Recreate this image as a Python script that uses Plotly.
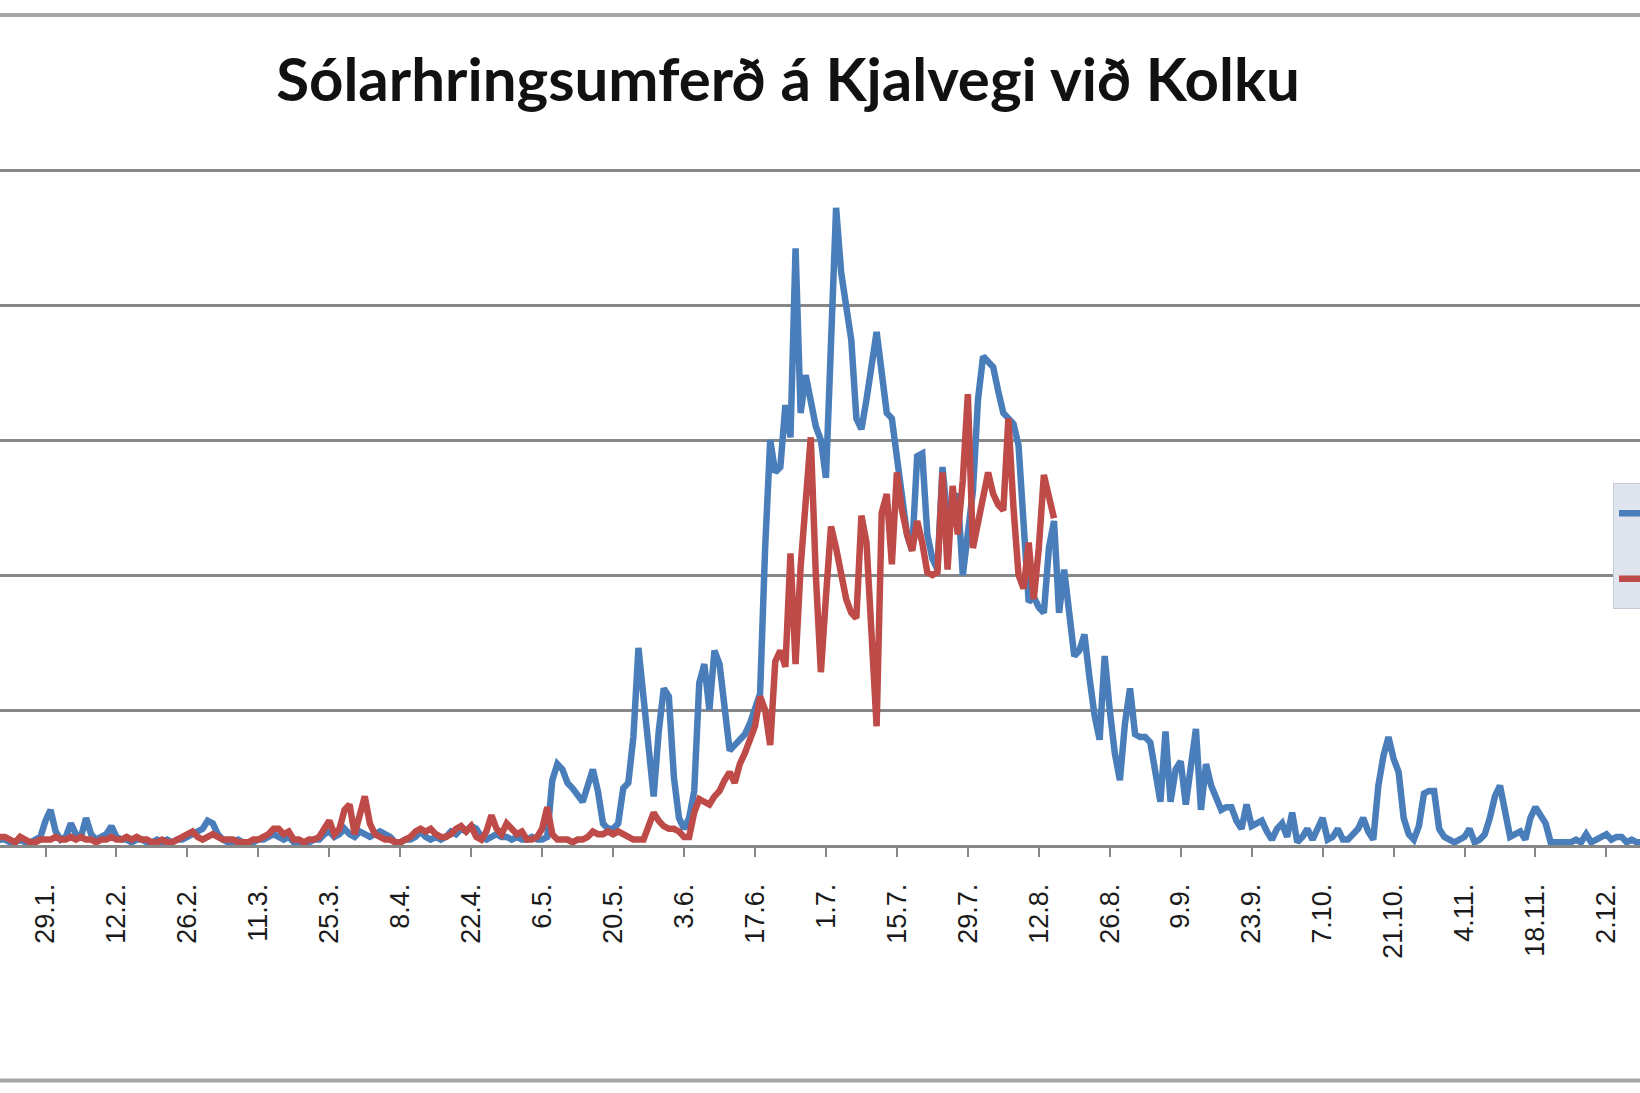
import pandas as pd
import plotly.graph_objects as go

# ---------------- data ----------------
title_text = "Sólarhringsumferð á Kjalvegi við Kolku"
series_names = ["", ""]   # legend text is cut off in the reference

# daily traffic, first value = 19 January
blue_start = "2012-01-19"
blue_values = [
    1, 2, 2, 1, 1, 2, 1, 1, 2, 3, 9,            # 19-29 Jan
    13, 5, 2, 3, 8, 4, 3, 10, 4, 2,
    3, 4, 7, 3, 2, 2, 1, 2, 2, 1,
    1, 2, 1, 2, 1, 2, 2, 3, 4, 5,
    6, 9, 8, 4, 2, 1, 1, 2, 1, 1,
    1, 2, 2, 3, 4, 3, 2, 3, 1, 1,
    1, 1, 2, 2, 4, 5, 3, 4, 6, 4,
    3, 5, 4, 3, 4, 5, 4, 3, 1, 1,
    2, 2, 3, 5, 3, 2, 3, 2, 3, 5,
    4, 6, 5, 7, 6, 3, 2, 3, 4, 3,
    3, 2, 3, 2, 2, 3, 2, 2, 3, 24,
    30, 28, 23, 21, 18, 16, 22, 28, 20, 8,
    6, 6, 8, 21, 23, 40, 73, 55, 38, 18,
    42, 58, 55, 25, 10, 6, 10, 20, 60, 67,
    50, 72, 67, 52, 35, 37, 39, 41, 45, 50,
    56, 110, 150, 138, 140, 163, 151, 221, 160, 174,
    164, 155, 150, 136, 186, 236, 212, 200, 187, 158,
    154, 165, 178, 190, 175, 160, 158, 142, 128, 115,
    109, 144, 145, 115, 106, 102, 140, 120, 127, 130,
    100, 115, 131, 165, 181, 179, 177, 168, 160, 158,
    156, 148, 120, 90, 92, 88, 86, 110, 120, 86,
    102, 88, 70, 72, 78, 62, 48, 39, 70, 50,
    34, 24, 45, 58, 41, 40, 40, 38, 26, 16,
    42, 16, 28, 31, 15, 30, 43, 13, 30, 22,
    18, 13, 14, 14, 9, 6, 15, 7, 8, 9,
    5, 2, 6, 8, 3, 12, 1, 3, 6, 2,
    6, 10, 2, 3, 6, 2, 2, 4, 6, 10,
    5, 2, 22, 33, 40, 32, 27, 10, 4, 2,
    7, 19, 20, 20, 6, 3, 2, 1, 2, 3,
    6, 1, 2, 4, 10, 18, 22, 13, 3, 4,
    5, 2, 10, 14, 11, 8, 1, 1, 1, 1,
    1, 2, 1, 4, 1, 2, 3, 4, 2, 3,
    3, 1, 2, 1, 1, 0,
]

red_start = "2012-01-19"
red_values = [
    2, 3, 3, 2, 1, 3, 2, 1, 1, 2, 2,
    2, 3, 2, 2, 3, 2, 3, 2, 2, 1,
    2, 2, 3, 2, 2, 3, 2, 3, 2, 2,
    1, 1, 2, 1, 1, 2, 3, 4, 5, 3,
    2, 3, 4, 3, 2, 2, 2, 1, 1, 1,
    2, 2, 3, 4, 6, 6, 4, 5, 2, 2,
    1, 2, 2, 3, 6, 9, 4, 6, 13, 15,
    4, 10, 18, 8, 4, 3, 2, 2, 1, 1,
    2, 3, 5, 6, 5, 6, 4, 3, 3, 4,
    6, 7, 5, 7, 3, 2, 5, 11, 6, 4,
    8, 6, 4, 5, 2, 2, 3, 6, 14, 4,
    2, 2, 2, 1, 2, 2, 3, 5, 4, 4,
    5, 4, 5, 4, 3, 2, 2, 2, 7, 12,
    9, 7, 6, 6, 5, 3, 3, 12, 17, 16,
    15, 18, 20, 24, 27, 23, 30, 34, 39, 44,
    55, 50, 37, 68, 72, 66, 108, 67, 103, 128,
    151, 100, 64, 92, 118, 110, 100, 91, 86, 84,
    122, 112, 78, 44, 123, 130, 104, 138, 124, 115,
    109, 120, 112, 101, 100, 101, 138, 102, 133, 115,
    135, 167, 110, 120, 130, 138, 130, 126, 124, 158,
    125, 100, 95, 112, 91, 110, 137, 128, 121,
]

tick_start = "2012-01-29"
tick_labels = ["29.1.", "12.2.", "26.2.", "11.3.", "25.3.", "8.4.", "22.4.",
               "6.5.", "20.5.", "3.6.", "17.6.", "1.7.", "15.7.", "29.7.",
               "12.8.", "26.8.", "9.9.", "23.9.", "7.10.", "21.10.", "4.11.",
               "18.11.", "2.12."]
y_grid = [0, 50, 100, 150, 200, 250]

blue_dates = pd.date_range(blue_start, periods=len(blue_values), freq="D")
red_dates = pd.date_range(red_start, periods=len(red_values), freq="D")
tick_dates = pd.date_range(tick_start, periods=len(tick_labels), freq="14D")

# ---------------- figure ----------------
BLUE = "#4A7EBB"
RED = "#BE4B48"
GRID = "#878787"

fig = go.Figure()
fig.add_trace(go.Scatter(x=blue_dates, y=blue_values, mode="lines",
                         name=series_names[0], legendgroup="a",
                         line=dict(color=BLUE, width=6.5)))
fig.add_trace(go.Scatter(x=red_dates, y=red_values, mode="lines",
                         name=series_names[1], legendgroup="b",
                         line=dict(color=RED, width=6.5)))

W, H = 1640, 1093
top_px, bottom_px = 167, 845
px_per_unit = 2.7
y_max = (bottom_px - top_px) / px_per_unit

def py(ypx):
    return (bottom_px - ypx) / (bottom_px - top_px)

fig.update_layout(
    width=W, height=H,
    margin=dict(l=0, r=0, t=top_px, b=H - bottom_px, autoexpand=False),
    paper_bgcolor="white", plot_bgcolor="white",
    title=dict(text=title_text, x=0.4805, xanchor="center",
               y=1 - 80 / H, yanchor="middle",
               font=dict(family="Lato", size=60, color="#111111", weight="bold")),
    showlegend=True,
    legend=dict(x=1613 / W, xanchor="left", y=py(483), yanchor="top",
                bgcolor="#dfe4ef", bordercolor="#c5cad6", borderwidth=1,
                font=dict(size=35, color="#222"), tracegroupgap=17,
                traceorder="grouped", itemwidth=40),
    xaxis=dict(type="date",
               range=["2012-01-20 00:29", "2012-12-08 15:07"],
               tickvals=tick_dates, ticktext=tick_labels, tickangle=-90,
               ticks="outside", ticklen=9, tickwidth=2, tickcolor=GRID,
               showline=True, linecolor=GRID, linewidth=3,
               showgrid=False, zeroline=False,
               ticklabelstandoff=16,
               tickfont=dict(family="Liberation Sans", size=27, color="#1a1a1a")),
    yaxis=dict(range=[0, y_max], tickvals=y_grid, showticklabels=False,
               showgrid=True, gridcolor=GRID, gridwidth=3,
               zeroline=False, showline=False, ticks=""),
    shapes=[
        dict(type="line", xref="paper", yref="paper", x0=0, x1=1,
             y0=py(15), y1=py(15), line=dict(color="#a6a6a6", width=4)),
        dict(type="line", xref="paper", yref="paper", x0=0, x1=1,
             y0=py(1080.5), y1=py(1080.5), line=dict(color="#a6a6a6", width=4)),
    ],
)

fig.write_html("out.html")
